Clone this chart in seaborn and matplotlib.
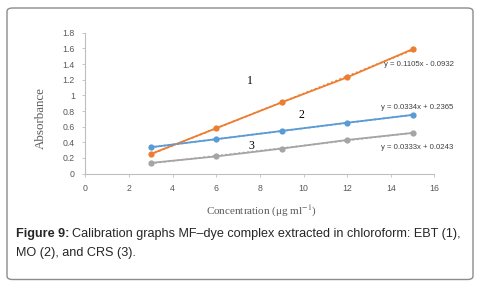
import matplotlib
matplotlib.use("Agg")
import matplotlib.pyplot as plt
import seaborn as sns
import pandas as pd
from matplotlib.patches import FancyBboxPatch

conc = [3, 6, 9, 12, 15]
ebt = [0.25, 0.58, 0.91, 1.23, 1.59]
mo = [0.337, 0.44, 0.545, 0.65, 0.75]
crs = [0.137, 0.22, 0.32, 0.43, 0.52]
series_names = ["1", "2", "3"]
equations = ["y = 0.1105x - 0.0932", "y = 0.0334x + 0.2365", "y = 0.0333x + 0.0243"]
xticks = [0, 2, 4, 6, 8, 10, 12, 14, 16]
yticks = [0, 0.2, 0.4, 0.6, 0.8, 1, 1.2, 1.4, 1.6, 1.8]

colors = ["#ED7D31", "#5B9BD5", "#A5A5A5"]

sns.set_style("white")
plt.rcParams["mathtext.fontset"] = "stix"
narrow = ["Liberation Sans Narrow", "Liberation Sans", "DejaVu Sans"]
serif = ["Liberation Serif", "DejaVu Serif"]
sans = ["Liberation Sans", "DejaVu Sans"]

fig = plt.figure(figsize=(4.79, 2.87), dpi=100)
ax = fig.add_axes([0.178, 0.395, 0.729, 0.491])

df = pd.DataFrame({
    "x": conc * 3,
    "y": ebt + mo + crs,
    "s": sum([[n] * len(conc) for n in series_names], []),
})
sns.lineplot(data=df, x="x", y="y", hue="s", palette=colors, marker="o",
             markersize=4.5, markeredgewidth=0, linewidth=1.3, legend=False, ax=ax)
for name, c in zip(series_names, colors):
    sub = df[df.s == name]
    sns.regplot(data=sub, x="x", y="y", scatter=False, ci=None, ax=ax,
                line_kws=dict(color=c, linestyle=":", linewidth=1.2))

ax.set_xlim(0, 16)
ax.set_ylim(0, 1.8)
ax.set_xticks(xticks)
ax.set_yticks(yticks)
ax.set_xticklabels([str(t) for t in xticks], family=narrow, fontsize=6.3, color="#595959")
ax.set_yticklabels([("%g" % t) for t in yticks], family=narrow, fontsize=6.3, color="#595959")
ax.tick_params(axis="both", length=2.5, width=0.6, color="#BFBFBF", pad=5, bottom=True, left=True)
for s in ["top", "right"]:
    ax.spines[s].set_visible(False)
for s in ["left", "bottom"]:
    ax.spines[s].set_color("#BFBFBF")
    ax.spines[s].set_linewidth(0.8)
ax.set_xlabel("Concentration (μg ml$^{-1}$)", family=serif, fontsize=8, color="#595959", va="center")
ax.xaxis.set_label_coords(0.505, -0.265)
ax.set_ylabel("Absorbance", family=serif, fontsize=9.4, color="#595959", va="center")
ax.yaxis.set_label_coords(-0.127, 0.395)

# series numbers
ax.text(7.54, 1.18, "1", family=serif, fontsize=8.5, ha="center", va="center", color="black")
ax.text(9.9, 0.75, "2", family=serif, fontsize=8.5, ha="center", va="center", color="black")
ax.text(7.6, 0.35, "3", family=serif, fontsize=8.5, ha="center", va="center", color="black")
# equations
eq_pos = [(15.3, 1.39), (15.2, 0.85), (15.2, 0.34)]
for (ex, ey), eq in zip(eq_pos, equations):
    ax.text(ex, ey, eq, family=narrow, fontsize=5.6, ha="center", va="center", color="#404040")

# rounded frame
frame = FancyBboxPatch((7 / 479, 1 - 279.5 / 287), 466 / 479, 271.5 / 287,
                       boxstyle="round,pad=0,rounding_size=0.012",
                       transform=fig.transFigure, facecolor="none",
                       edgecolor="#8C8C8C", linewidth=1.0)
fig.patches.append(frame)

# caption
fig.canvas.draw()
r = fig.canvas.get_renderer()
cap_fs = 9.1
t1 = fig.text(16 / 479, 1 - 234 / 287, "Figure 9:", family=sans, fontsize=cap_fs,
              weight="bold", va="center", ha="left")
bb = t1.get_window_extent(renderer=r)
fig.text(bb.x1 / 479 + 0.006, 1 - 234 / 287,
         "Calibration graphs MF\u2013dye complex extracted in chloroform: EBT (1),",
         family=sans, fontsize=cap_fs, va="center", ha="left")
fig.text(16 / 479, 1 - 253 / 287, "MO (2), and CRS (3).", family=sans, fontsize=cap_fs,
         va="center", ha="left")

fig.savefig("out.png", dpi=100)
